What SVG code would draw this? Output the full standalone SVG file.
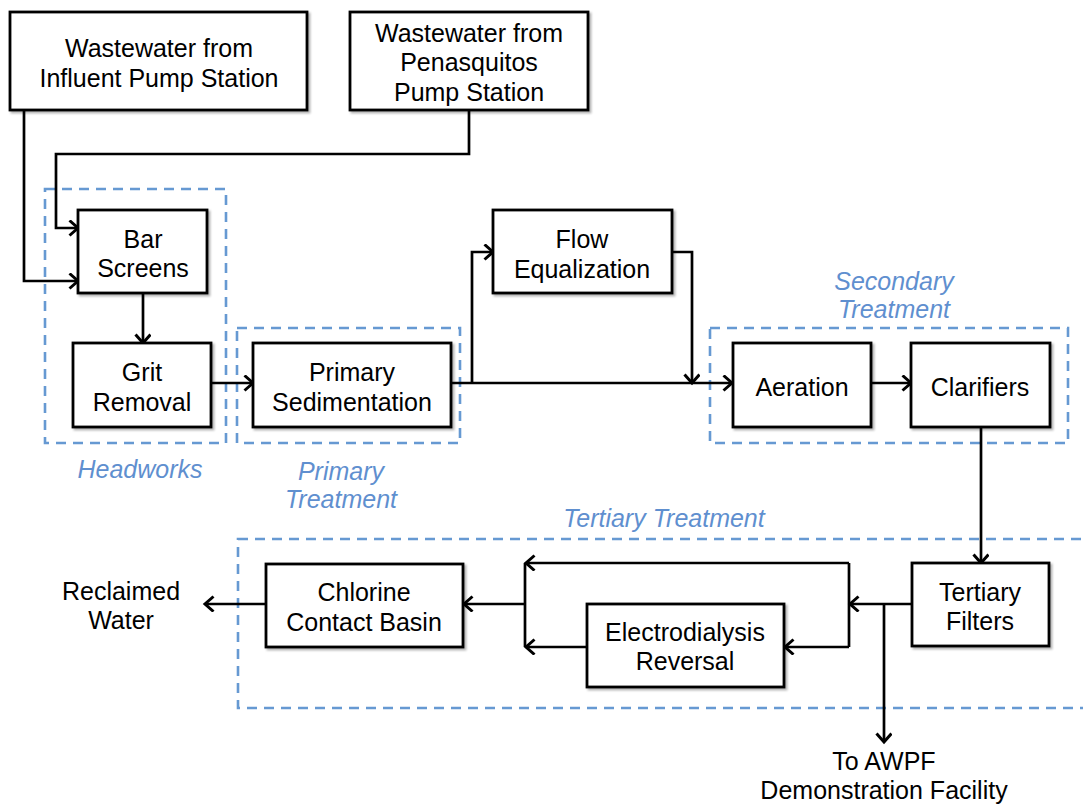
<svg xmlns="http://www.w3.org/2000/svg" width="1083" height="804" viewBox="0 0 1083 804">
<style>
.box{fill:#fff;stroke:#000;stroke-width:2.8;filter:url(#sh)}
.t{font-family:"Liberation Sans",Arial,sans-serif;font-size:25px;fill:#000;text-anchor:middle}
.g{fill:none;stroke:#6699d2;stroke-width:2.6;stroke-dasharray:10,7}
.gl{font-family:"Liberation Sans",Arial,sans-serif;font-size:25px;font-style:italic;fill:#5f8fcf;text-anchor:middle}
.c{fill:none;stroke:#000;stroke-width:2.7}
.a{marker-end:url(#ah)}
</style>
<defs>
<filter id="sh" x="-5%" y="-5%" width="115%" height="120%">
<feDropShadow dx="2" dy="2" stdDeviation="1" flood-color="#000" flood-opacity="0.3"/>
</filter>
<marker id="ah" markerUnits="userSpaceOnUse" markerWidth="16" markerHeight="18" refX="11" refY="8" orient="auto" viewBox="0 0 16 18">
<path d="M2.5,0.5 L11,8 L2.5,15.5" fill="none" stroke="#000" stroke-width="3"/>
</marker>
</defs>

<g id="groups">
<rect class="g" x="45" y="189" width="181" height="254"/>
<rect class="g" x="237" y="328" width="223" height="115"/>
<rect class="g" x="710" y="328" width="358" height="115"/>
<rect class="g" x="238" y="539" width="860" height="169"/>
<text class="gl" x="140" y="478">Headworks</text>
<text class="gl" x="341" y="480">Primary</text>
<text class="gl" x="341" y="508">Treatment</text>
<text class="gl" x="894" y="290">Secondary</text>
<text class="gl" x="894" y="318">Treatment</text>
<text class="gl" x="664" y="527">Tertiary Treatment</text>
</g>

<g id="connectors">
<polyline class="c a" points="24,110 24,281 78,281"/>
<polyline class="c a" points="469,110 469,154 56,154 56,228 78,228"/>
<polyline class="c a" points="143,293 143,343"/>
<polyline class="c a" points="211,383 253,383"/>
<polyline class="c a" points="451,383 732,383"/>
<polyline class="c a" points="472,383 472,252 493,252"/>
<polyline class="c a" points="672,252 692,252 692,383"/>
<polyline class="c a" points="871,383 911,383"/>
<polyline class="c a" points="981,427 981,563"/>
<polyline class="c a" points="912,604 850,604"/>
<polyline class="c" points="849,563 849,647"/>
<polyline class="c a" points="849,563 526,563"/>
<polyline class="c a" points="849,647 785,647"/>
<polyline class="c a" points="587,647 526,647"/>
<polyline class="c" points="525,563 525,647"/>
<polyline class="c a" points="525,604 464,604"/>
<polyline class="c a" points="266,604 205,604"/>
<polyline class="c a" points="884,604 884,742"/>
</g>

<g id="n-influent">
<rect class="box" x="10" y="12" width="297" height="98"/>
<text class="t" x="159" y="57">Wastewater from</text>
<text class="t" x="159" y="87">Influent Pump Station</text>
</g>
<g id="n-penasquitos">
<rect class="box" x="350" y="12" width="238" height="98"/>
<text class="t" x="469" y="42">Wastewater from</text>
<text class="t" x="469" y="71">Penasquitos</text>
<text class="t" x="469" y="101">Pump Station</text>
</g>
<g id="n-barscreens">
<rect class="box" x="78" y="210" width="129" height="83"/>
<text class="t" x="143" y="248">Bar</text>
<text class="t" x="143" y="277">Screens</text>
</g>
<g id="n-grit">
<rect class="box" x="73" y="343" width="138" height="84"/>
<text class="t" x="142" y="381">Grit</text>
<text class="t" x="142" y="411">Removal</text>
</g>
<g id="n-primary">
<rect class="box" x="253" y="343" width="198" height="84"/>
<text class="t" x="352" y="381">Primary</text>
<text class="t" x="352" y="411">Sedimentation</text>
</g>
<g id="n-floweq">
<rect class="box" x="493" y="210" width="179" height="83"/>
<text class="t" x="582" y="248">Flow</text>
<text class="t" x="582" y="278">Equalization</text>
</g>
<g id="n-aeration">
<rect class="box" x="733" y="343" width="138" height="84"/>
<text class="t" x="802" y="396">Aeration</text>
</g>
<g id="n-clarifiers">
<rect class="box" x="911" y="343" width="139" height="84"/>
<text class="t" x="980" y="396">Clarifiers</text>
</g>
<g id="n-tertiary">
<rect class="box" x="912" y="563" width="137" height="83"/>
<text class="t" x="980" y="601">Tertiary</text>
<text class="t" x="980" y="630">Filters</text>
</g>
<g id="n-edr">
<rect class="box" x="587" y="604" width="197" height="83"/>
<text class="t" x="685" y="641">Electrodialysis</text>
<text class="t" x="685" y="670">Reversal</text>
</g>
<g id="n-chlorine">
<rect class="box" x="266" y="564" width="197" height="83"/>
<text class="t" x="364" y="601">Chlorine</text>
<text class="t" x="364" y="631">Contact Basin</text>
</g>
<g id="n-reclaimed">
<text class="t" x="121" y="600">Reclaimed</text>
<text class="t" x="121" y="629">Water</text>
</g>
<g id="n-awpf">
<text class="t" x="884" y="770">To AWPF</text>
<text class="t" x="884" y="799">Demonstration Facility</text>
</g>
</svg>
